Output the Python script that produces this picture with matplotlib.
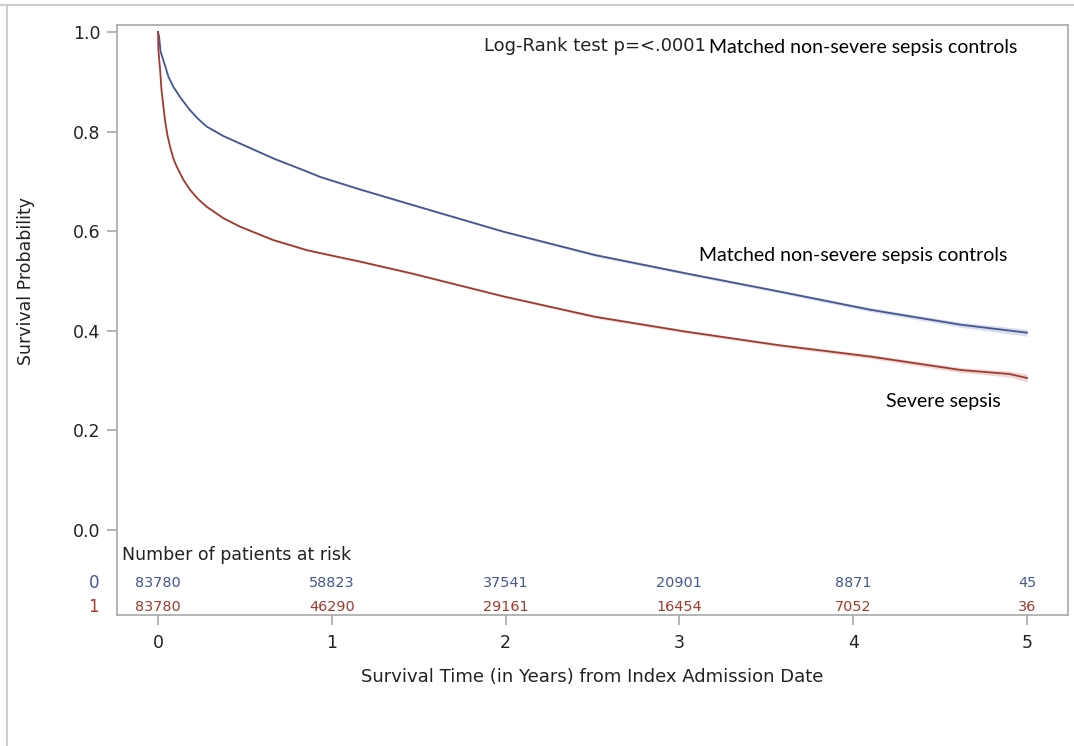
import numpy as np
from matplotlib import pyplot as plt
from matplotlib.lines import Line2D

# Kaplan-Meier estimates read at selected times (years)
t_ctrl = [0.0, 0.006, 0.015, 0.03, 0.06, 0.088, 0.127, 0.184, 0.232, 0.28, 0.376, 0.472,
          0.664, 0.855, 0.932, 1.16, 1.46, 1.987, 2.514, 3.04, 3.57, 4.10, 4.62, 5.0]
s_ctrl = [1.0, 0.991, 0.960, 0.944, 0.910, 0.890, 0.869, 0.843, 0.825, 0.810, 0.791, 0.776,
          0.746, 0.720, 0.709, 0.684, 0.653, 0.599, 0.552, 0.515, 0.479, 0.442, 0.412, 0.396]
ci_ctrl = [0.0, 0.001, 0.001, 0.001, 0.001, 0.002, 0.002, 0.002, 0.002, 0.002, 0.002, 0.002,
           0.002, 0.002, 0.002, 0.002, 0.002, 0.002, 0.003, 0.003, 0.003, 0.004, 0.005, 0.007]

t_sev = [0.0, 0.002, 0.012, 0.02, 0.04, 0.054, 0.069, 0.088, 0.107, 0.146, 0.184, 0.232,
         0.28, 0.376, 0.472, 0.664, 0.855, 0.932, 1.16, 1.46, 1.987, 2.514, 3.04, 3.57,
         4.10, 4.62, 4.9, 5.0]
s_sev = [1.0, 0.964, 0.924, 0.884, 0.823, 0.793, 0.770, 0.746, 0.730, 0.703, 0.683, 0.664,
         0.649, 0.626, 0.609, 0.582, 0.562, 0.556, 0.539, 0.515, 0.469, 0.428, 0.398, 0.371,
         0.348, 0.321, 0.313, 0.305]
ci_sev = [0.0, 0.001, 0.002, 0.002, 0.002, 0.002, 0.002, 0.002, 0.002, 0.002, 0.002, 0.002,
          0.002, 0.002, 0.002, 0.002, 0.002, 0.002, 0.002, 0.002, 0.002, 0.003, 0.003, 0.003,
          0.004, 0.005, 0.006, 0.008]

# patients at risk
risk_times = [0, 1, 2, 3, 4, 5]
risk_ctrl = [83780, 58823, 37541, 20901, 8871, 45]
risk_sev = [83780, 46290, 29161, 16454, 7052, 36]

blue = '#445694'
red = '#a23a2e'
axis_gray = '#a8a8a8'
text_col = '#222222'
sas_font = ['DejaVu Sans']
note_font = ['Lato', 'DejaVu Sans']

fig = plt.figure(figsize=(10.74, 7.46), dpi=100)
ax = fig.add_axes([117/1074, 1-615/746, (1068-117)/1074, (615-25)/746])

for t, s, ci, c in [(t_ctrl, s_ctrl, ci_ctrl, blue), (t_sev, s_sev, ci_sev, red)]:
    t = np.array(t); s = np.array(s); ci = np.array(ci)
    ax.fill_between(t, s - ci, s + ci, color=c, alpha=0.2, lw=0)
    ax.plot(t, s, color=c, lw=1.3)

ax.set_xlim(-0.236, 5.236)
ax.set_ylim(-0.171, 1.014)
ax.set_xticks(range(0, 6))
ax.set_yticks(np.arange(0, 1.01, 0.2))
ax.set_yticklabels([f'{v:.1f}' for v in np.arange(0, 1.01, 0.2)])
for sp in ax.spines.values():
    sp.set_color(axis_gray)
    sp.set_linewidth(1.2)
ax.tick_params(axis='both', color=axis_gray, length=7, width=1.2,
               labelcolor=text_col, labelsize=12.5)
ax.tick_params(axis='x', pad=7)
ax.tick_params(axis='y', pad=5)
for lab in ax.get_xticklabels() + ax.get_yticklabels():
    lab.set_family(sas_font)

ax.set_ylabel('Survival Probability', family=sas_font, fontsize=12.5, color=text_col)
ax.yaxis.set_label_coords(-0.086, 0.566)
ax.text(0.5, -0.105, 'Survival Time (in Years) from Index Admission Date',
        transform=ax.transAxes, ha='center', va='center',
        family=sas_font, fontsize=13, color=text_col)

# at-risk table inside the plot area
ax.text(-0.21, -0.050, 'Number of patients at risk', ha='left', va='center',
        family=sas_font, fontsize=12.5, color=text_col)
for x, n0, n1 in zip(risk_times, risk_ctrl, risk_sev):
    ax.text(x, -0.106, str(n0), ha='center', va='center', color=blue,
            family=sas_font, fontsize=10.4)
    ax.text(x, -0.155, str(n1), ha='center', va='center', color=red,
            family=sas_font, fontsize=10.4)
ax.text(-0.37, -0.106, '0', ha='center', va='center', color=blue,
        family=sas_font, fontsize=12, clip_on=False)
ax.text(-0.37, -0.155, '1', ha='center', va='center', color=red,
        family=sas_font, fontsize=12, clip_on=False)

# annotations
ax.text(3.15, 0.972, 'Log-Rank test p=<.0001', ha='right', va='center',
        family=sas_font, fontsize=13, color=text_col)
ax.text(3.17, 0.968, 'Matched non-severe sepsis controls', ha='left', va='center',
        family=note_font, fontsize=14, color='black')
ax.text(3.11, 0.552, 'Matched non-severe sepsis controls', ha='left', va='center',
        family=note_font, fontsize=14, color='black')
ax.text(4.19, 0.257, 'Severe sepsis', ha='left', va='center',
        family=note_font, fontsize=14, color='black')

# outer frame lines
fig.add_artist(Line2D([0, 1], [1-4.5/746, 1-4.5/746], color='#cccccc', lw=1.5))
fig.add_artist(Line2D([7.5/1074, 7.5/1074], [0, 1-4.5/746], color='#cccccc', lw=1.5))

plt.savefig('out.png', dpi=100)
plt.close(fig)
